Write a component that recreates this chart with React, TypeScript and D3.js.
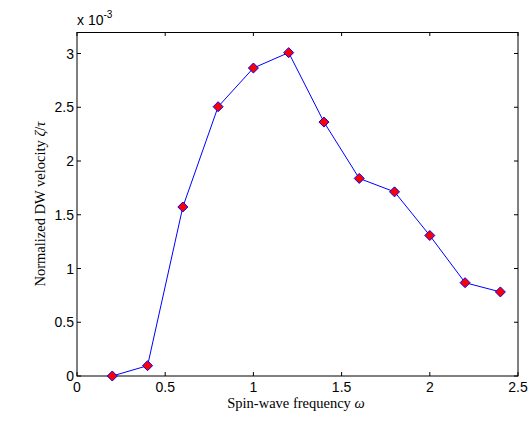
import React from "react";
import * as d3 from "d3";

const freq = [0.2, 0.4, 0.6, 0.8, 1.0, 1.2, 1.4, 1.6, 1.8, 2.0, 2.2, 2.4];
const velocity = [0.0, 0.096, 1.572, 2.505, 2.865, 3.008, 2.362, 1.838, 1.713, 1.307, 0.868, 0.782];
const xTicks = [0, 0.5, 1, 1.5, 2, 2.5];
const yTicks = [0, 0.5, 1, 1.5, 2, 2.5, 3];

const W = 531, H = 421;
const L = 77, R = 518, T = 32, B = 376;

export default function App() {
  const x = d3.scaleLinear().domain([0, 2.5]).range([L, R]);
  const y = d3.scaleLinear().domain([0, 3.2]).range([B, T]);
  const line = d3.line<number>().x((_, i) => x(freq[i])).y((d) => y(d));
  const r = 5;
  const diamond = `M0,${-r}L${r},0L0,${r}L${-r},0Z`;
  const tickFont = "'Liberation Sans', Arial, Helvetica, sans-serif";
  const serif = "'Liberation Serif', 'Times New Roman', serif";
  return (
    <svg width={W} height={H} style={{ position: "absolute", left: 0, top: 0, background: "#fff" }}>
      <rect x={0} y={0} width={W} height={H} fill="#fff" />
      {xTicks.map((t) => (
        <g key={"x" + t}>
          <line x1={x(t)} x2={x(t)} y1={B} y2={B - 4} stroke="#000" strokeWidth={1} />
          <line x1={x(t)} x2={x(t)} y1={T} y2={T + 4} stroke="#000" strokeWidth={1} />
          <text x={x(t)} y={392} fontFamily={tickFont} fontSize={14} textAnchor="middle">{t}</text>
        </g>
      ))}
      {yTicks.map((t) => (
        <g key={"y" + t}>
          <line x1={L} x2={L + 4} y1={y(t)} y2={y(t)} stroke="#000" strokeWidth={1} />
          <line x1={R} x2={R - 4} y1={y(t)} y2={y(t)} stroke="#000" strokeWidth={1} />
          <text x={74} y={y(t) + 5} fontFamily={tickFont} fontSize={14} textAnchor="end">{t}</text>
        </g>
      ))}
      <rect x={L} y={T + 0.5} width={R - L} height={B - T - 0.5} fill="none" stroke="#000" strokeWidth={1} />
      <text x={77} y={25} fontFamily={tickFont} fontSize={14}>
        x 10<tspan dy={-7} fontSize={10}>-3</tspan>
      </text>
      <path d={line(velocity) || ""} fill="none" stroke="#0000ff" strokeWidth={1} />
      {velocity.map((v, i) => (
        <path key={i} d={diamond} transform={`translate(${x(freq[i])},${y(v)})`} fill="#ff0000" stroke="#0000ff" strokeWidth={1} />
      ))}
      <text x={296} y={408} fontFamily={serif} fontSize={14.5} textAnchor="middle">
        Spin-wave frequency <tspan fontStyle="italic">ω</tspan>
      </text>
      <text transform={`translate(45,204) rotate(-90)`} fontFamily={serif} fontSize={14.5} textAnchor="middle">
        Normalized DW velocity <tspan fontStyle="italic">ζ</tspan>/<tspan fontStyle="italic">τ</tspan>
      </text>
    </svg>
  );
}
